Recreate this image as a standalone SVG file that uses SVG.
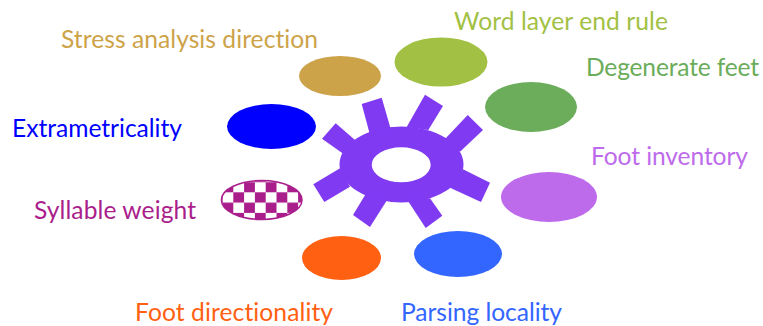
<svg xmlns="http://www.w3.org/2000/svg" width="763" height="326" viewBox="0 0 763 326">
<style>
text{font-family:Lato,"Liberation Sans",sans-serif;font-size:24.600px;font-variant-ligatures:none}
.gear{fill:#7F3AF2}
</style>
<defs>
<pattern id="check" patternUnits="userSpaceOnUse" x="233.3" y="192.3" width="21.6" height="20.6">
<rect width="21.6" height="20.6" fill="#fff"/>
<rect width="10.8" height="10.3" fill="#AA1E8C"/>
<rect x="10.8" y="10.3" width="10.8" height="10.3" fill="#AA1E8C"/>
</pattern>
</defs>
<rect width="763" height="326" fill="#fff"/>
<g id="connectors"/>
<g id="hub">
<path class="gear" fill-rule="evenodd" d="M339.500 164.500a62 38 0 1 0 124 0a62 38 0 1 0 -124 0ZM371.700 164.800a29.500 17.500 0 1 1 59 0a29.500 17.500 0 1 1 -59 0Z"/>
<polygon class="gear" points="361.700,104 381.700,97.700 391,130 370,135"/>
<polygon class="gear" points="425,94.700 443,106 428.300,130 406.700,127"/>
<polygon class="gear" points="467.700,115 483,130 460,151.700 445,139"/>
<polygon class="gear" points="463,169.300 490,182.700 481,202 450,187.700"/>
<polygon class="gear" points="430,198.300 442.300,215.700 425.700,228 406.700,199"/>
<polygon class="gear" points="387.700,199 370,227 353,215 365.700,194"/>
<polygon class="gear" points="350,186.700 324.300,202 313.300,184.300 340,168.300"/>
<polygon class="gear" points="322,138.700 335.700,123.300 355,140 345,155"/>
</g>
<g id="stress"><ellipse cx="340" cy="76" rx="41" ry="20" fill="#CDA349"/><text x="61" y="47.600" fill="#CDA349" textLength="257">Stress analysis direction</text></g>
<g id="word"><ellipse cx="441" cy="62" rx="46.500" ry="24.500" fill="#A2C144"/><text x="454" y="29.500" fill="#A2C144" textLength="214">Word layer end rule</text></g>
<g id="degenerate"><ellipse cx="531" cy="107" rx="46" ry="25" fill="#6BAD5A"/><text x="586" y="75.500" fill="#6BAD5A" textLength="173">Degenerate feet</text></g>
<g id="foot-inventory"><ellipse cx="549" cy="197" rx="48" ry="25" fill="#BE6BEB"/><text x="591" y="164.500" fill="#BE6BEB" textLength="157">Foot inventory</text></g>
<g id="parsing"><ellipse cx="458" cy="254" rx="44" ry="23" fill="#3366FF"/><text x="401" y="320.500" fill="#3366FF" textLength="161">Parsing locality</text></g>
<g id="foot-dir"><ellipse cx="341.500" cy="258" rx="39.500" ry="22" fill="#FF6011"/><text x="135" y="320.500" fill="#FF6011" textLength="198">Foot directionality</text></g>
<g id="syllable"><ellipse cx="261.700" cy="200" rx="40.300" ry="19.500" fill="url(#check)" stroke="#AA1E8C" stroke-width="1.500"/><text x="34" y="218.500" fill="#AA1E8C" textLength="162">Syllable weight</text></g>
<g id="extra"><ellipse cx="271.500" cy="126.500" rx="44.500" ry="22.500" fill="#0000FF"/><text x="12" y="136.500" fill="#0000FF" textLength="170">Extrametricality</text></g>
</svg>
